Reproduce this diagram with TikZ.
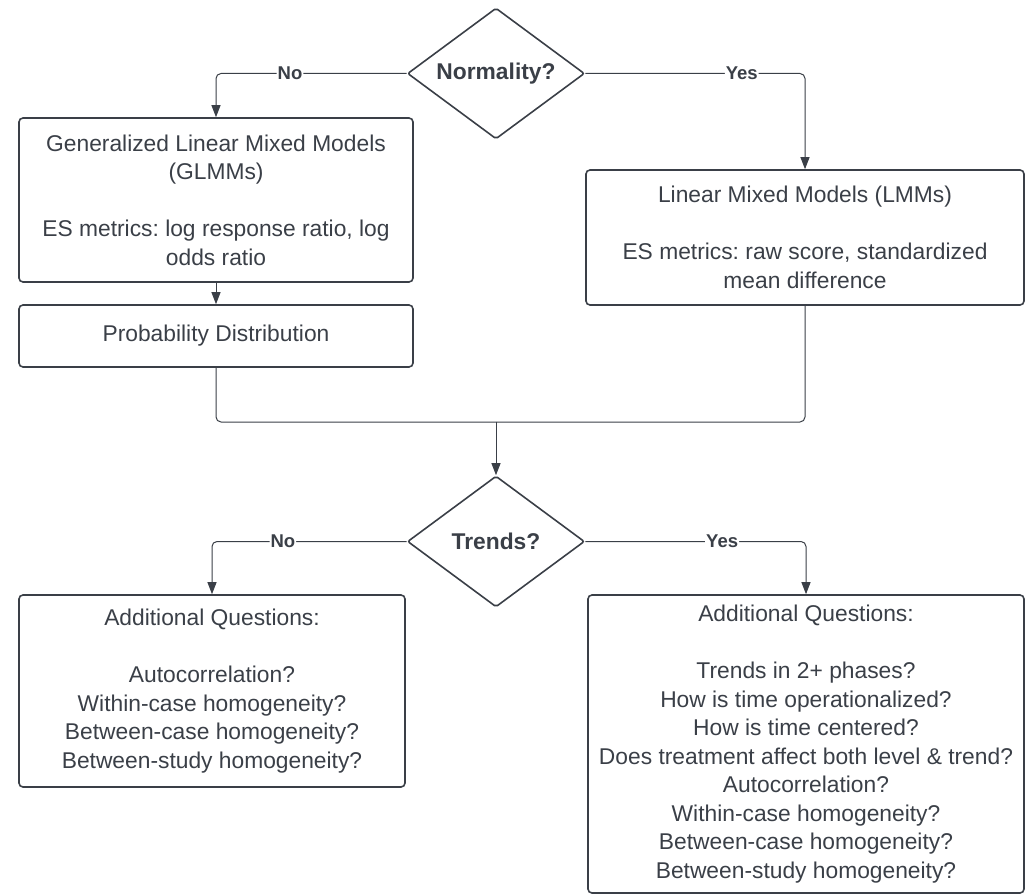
\documentclass[tikz,border=0pt]{standalone}
\usepackage{fontspec}
\setmainfont{Liberation Sans}
\usetikzlibrary{shapes.geometric,arrows.meta}
\definecolor{ink}{HTML}{3A3F47}
\frenchspacing
\begin{document}
\begin{tikzpicture}[x=1pt,y=-1pt,
  box/.style={draw=ink,line width=1.6pt,rounded corners=4pt,inner sep=0pt,
    align=center,text=ink,font=\fontsize{22.8}{28.5}\selectfont},
  dec/.style={draw=ink,line width=1.6pt,diamond,aspect=1.35,minimum width=177pt,
    minimum height=131pt,inner sep=0pt,rounded corners=2pt,text=ink,
    font=\bfseries\fontsize{22.8}{27}\selectfont},
  link/.style={draw=ink,line width=1pt,rounded corners=5pt},
  arr/.style={link,-{Triangle[length=12pt,width=9pt]}},
  lbl/.style={fill=white,inner sep=1pt,text=ink,
    font=\bfseries\fontsize{18.5}{21}\selectfont}]
\useasboundingbox (0,0) rectangle (1025,896);

% decisions
\node[dec] (norm) at (496,73.5) {Normality?};
\node[dec] (trend) at (496,541.5) {Trends?};

% model boxes
\node[box,minimum width=394pt,minimum height=164pt] (glmm) at (216,200)
  {Generalized Linear Mixed Models\\(GLMMs)\\[28.5pt]ES metrics: log response ratio, log\\odds ratio};
\node[box,minimum width=394pt,minimum height=62pt] (prob) at (216,336)
  {Probability Distribution};
\node[box,minimum width=438pt,minimum height=135pt] (lmm) at (805,237.5)
  {Linear Mixed Models (LMMs)\\[28.5pt]ES metrics: raw score, standardized\\mean difference};

% question boxes
\node[box,minimum width=386pt,minimum height=192pt] (qno) at (212,691)
  {Additional Questions:\\[28.5pt]Autocorrelation?\\Within-case homogeneity?\\Between-case homogeneity?\\Between-study homogeneity?};
\node[box,minimum width=436pt,minimum height=298pt] (qyes) at (806,744)
  {Additional Questions:\\[28.5pt]Trends in 2+ phases?\\How is time operationalized?\\How is time centered?\\Does treatment affect both level \& trend?\\Autocorrelation?\\Within-case homogeneity?\\Between-case homogeneity?\\Between-study homogeneity?};

% merge point
\coordinate (m) at (496,422);

% connectors
\draw[arr] (norm.west) -| node[lbl,pos=0.306] {No} (glmm.north);
\draw[arr] (norm.east) -| node[lbl,pos=0.356] {Yes} (lmm.north);
\draw[arr] (glmm.south) -- (prob.north);
\draw[link] (prob.south) |- (m);
\draw[link] (lmm.south) |- (m);
\draw[arr] (m) -- (trend.north);
\draw[arr] (trend.west) -| node[lbl,pos=0.318] {No} (qno.north);
\draw[arr] (trend.east) -| node[lbl,pos=0.31] {Yes} (qyes.north);
\end{tikzpicture}
\end{document}
